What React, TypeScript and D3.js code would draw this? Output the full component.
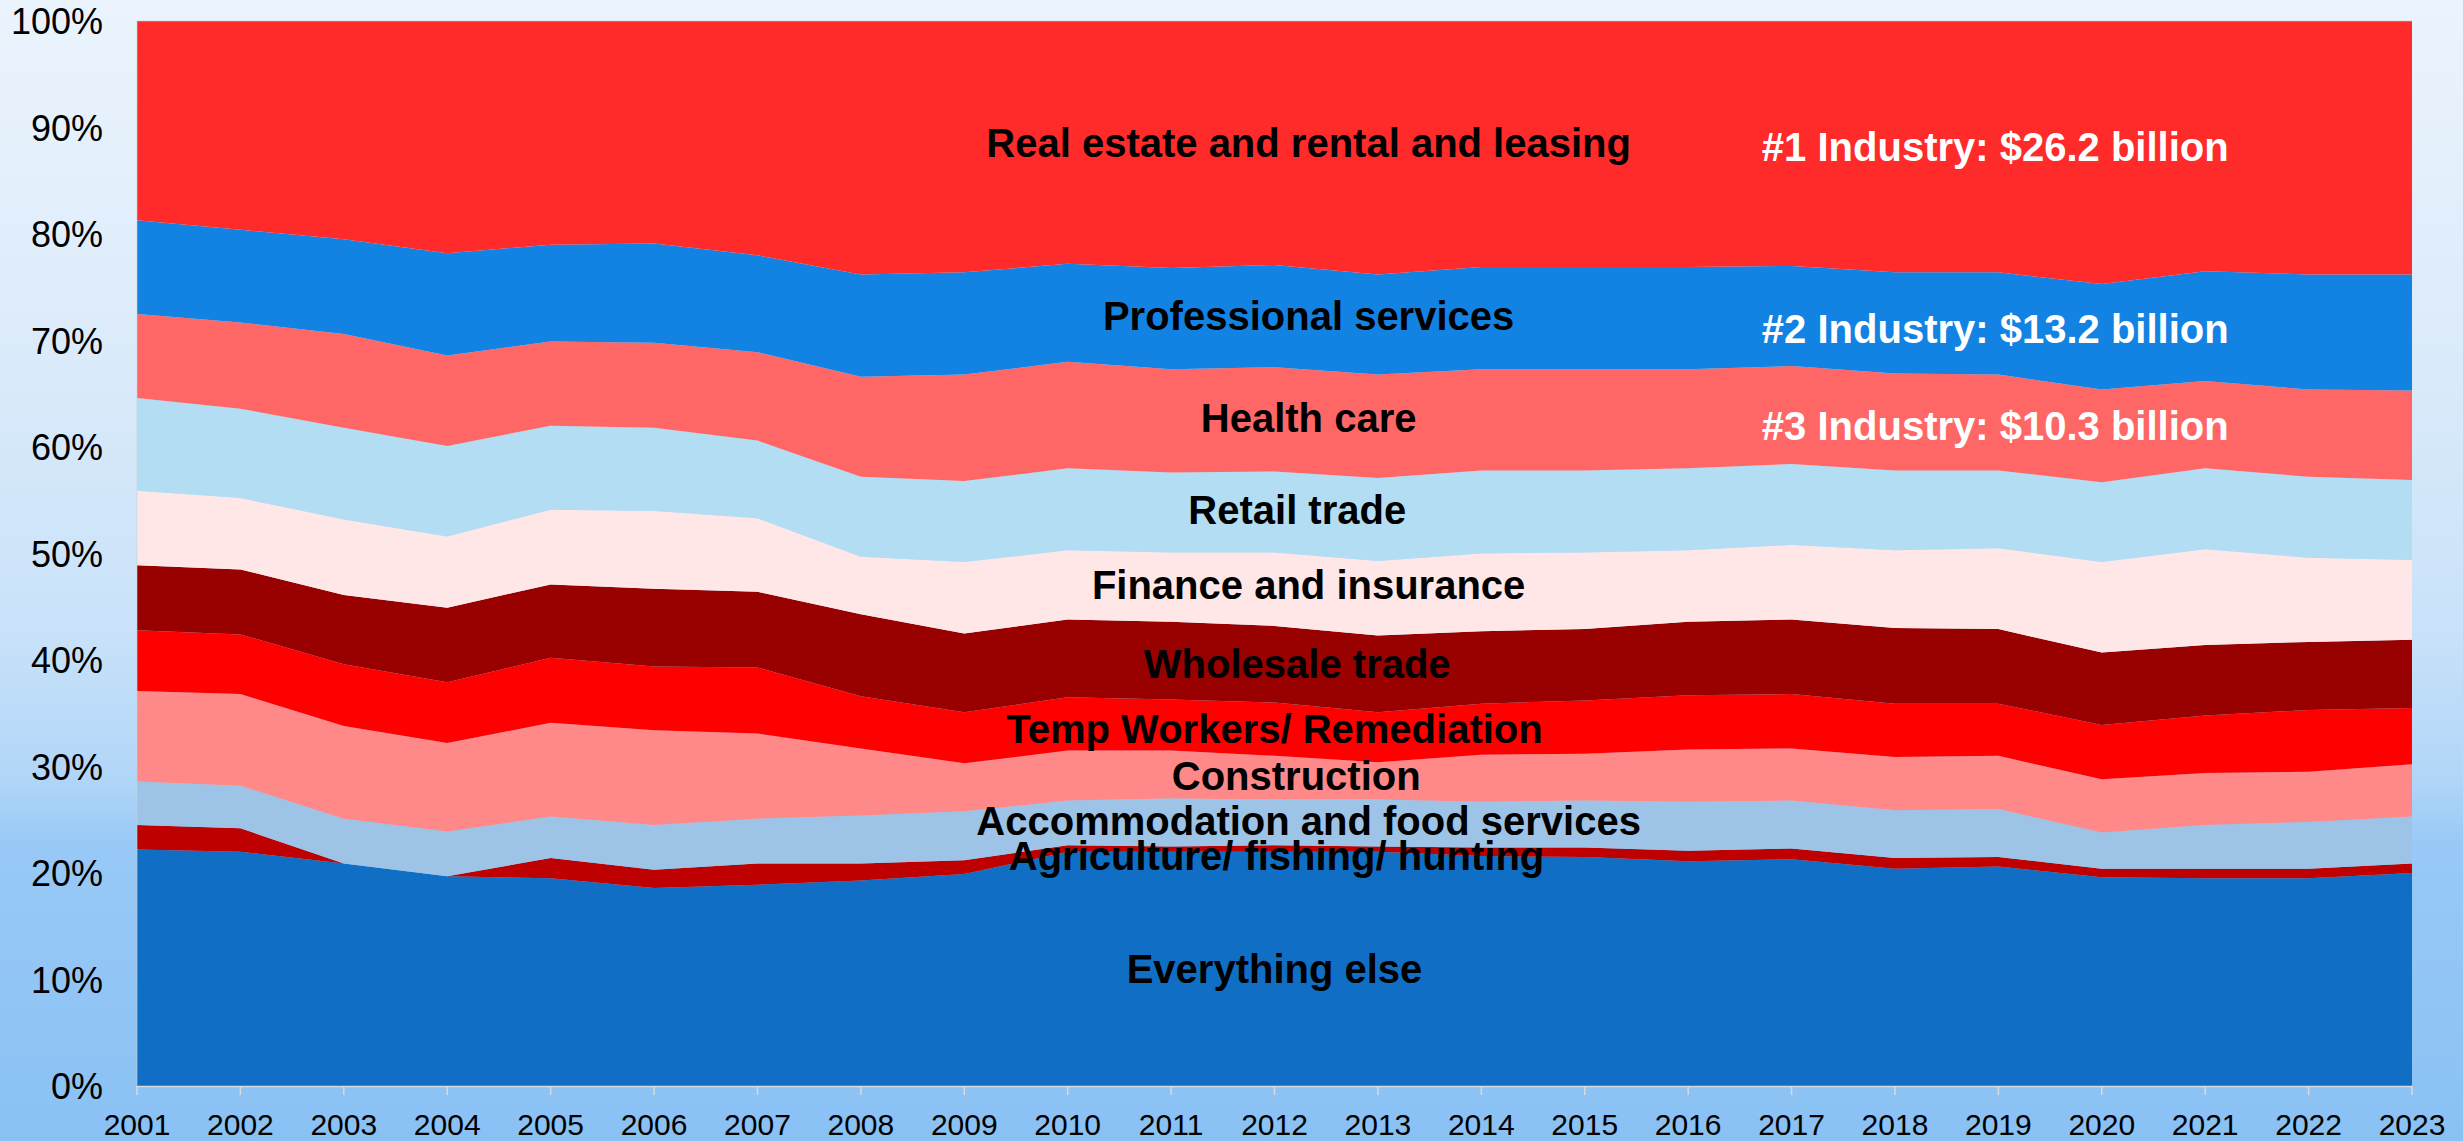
import React from "react";
import * as d3 from "d3";

const years = [2001, 2002, 2003, 2004, 2005, 2006, 2007, 2008, 2009, 2010, 2011, 2012, 2013, 2014, 2015, 2016, 2017, 2018, 2019, 2020, 2021, 2022, 2023];

// shares of total (percent), bottom to top
const everythingElse = [22.2, 22.0, 20.9, 19.7, 19.5, 18.6, 18.9, 19.3, 19.9, 22.0, 22.0, 22.0, 22.0, 21.6, 21.5, 21.1, 21.3, 20.4, 20.6, 19.6, 19.5, 19.5, 20.0];
const agriculture = [2.3, 2.2, 0.0, 0.0, 1.9, 1.7, 2.0, 1.6, 1.3, 0.6, 0.5, 0.6, 0.5, 0.8, 0.9, 1.0, 1.0, 1.0, 0.9, 0.8, 0.9, 0.9, 0.9];
const accommodation = [4.1, 4.0, 4.2, 4.2, 3.9, 4.2, 4.2, 4.5, 4.6, 4.2, 4.5, 4.3, 4.4, 4.3, 4.4, 4.6, 4.5, 4.5, 4.5, 3.4, 4.1, 4.4, 4.4];
const construction = [8.5, 8.6, 8.7, 8.3, 8.8, 8.9, 8.0, 6.3, 4.5, 4.7, 4.5, 4.1, 3.5, 4.4, 4.4, 4.9, 4.9, 5.0, 5.0, 5.0, 4.9, 4.7, 4.9];
const tempWorkers = [5.7, 5.6, 5.8, 5.7, 6.1, 6.0, 6.2, 4.9, 4.8, 5.0, 4.8, 5.0, 4.7, 4.8, 5.0, 5.1, 5.1, 5.0, 4.9, 5.1, 5.4, 5.8, 5.3];
const wholesale = [6.1, 6.1, 6.5, 7.0, 6.9, 7.3, 7.1, 7.7, 7.4, 7.3, 7.3, 7.2, 7.2, 6.8, 6.7, 6.9, 7.0, 7.1, 7.0, 6.8, 6.6, 6.4, 6.4];
const finance = [7.0, 6.7, 7.1, 6.7, 7.0, 7.3, 6.9, 5.4, 6.7, 6.5, 6.5, 6.9, 7.0, 7.3, 7.2, 6.7, 7.0, 7.3, 7.6, 8.5, 9.0, 7.9, 7.5];
const retail = [8.7, 8.4, 8.6, 8.5, 7.9, 7.8, 7.3, 7.5, 7.6, 7.7, 7.5, 7.6, 7.8, 7.8, 7.7, 7.7, 7.6, 7.5, 7.3, 7.5, 7.6, 7.6, 7.5];
const healthCare = [7.9, 8.1, 8.8, 8.5, 7.9, 8.0, 8.3, 9.4, 10.0, 10.0, 9.7, 9.8, 9.7, 9.5, 9.5, 9.3, 9.2, 9.1, 9.0, 8.7, 8.2, 8.2, 8.4];
const professional = [8.8, 8.7, 8.9, 9.6, 9.1, 9.3, 9.1, 9.6, 9.6, 9.2, 9.5, 9.6, 9.4, 9.6, 9.6, 9.6, 9.4, 9.5, 9.6, 9.9, 10.3, 10.8, 10.9];
const realEstate = [18.7, 19.6, 20.5, 21.8, 21.0, 20.9, 22.0, 23.8, 23.6, 22.8, 23.2, 22.9, 23.8, 23.1, 23.1, 23.1, 23.0, 23.6, 23.6, 24.7, 23.5, 23.8, 23.8];

const seriesKeys = ["else", "agri", "accom", "constr", "temp", "wholesale", "finance", "retail", "health", "prof", "realestate"];
const seriesValues = [everythingElse, agriculture, accommodation, construction, tempWorkers, wholesale, finance, retail, healthCare, professional, realEstate];
const seriesLabels = [
  "Everything else",
  "Agriculture/ fishing/ hunting",
  "Accommodation and food services",
  "Construction",
  "Temp Workers/ Remediation",
  "Wholesale trade",
  "Finance and insurance",
  "Retail trade",
  "Health care",
  "Professional services",
  "Real estate and rental and leasing",
];
const seriesColors = ["#106FC5", "#BE0000", "#9DC3E6", "#FF8989", "#FF0000", "#990000", "#FFE7E7", "#B2DDF2", "#FF6767", "#1383E3", "#FF2A2A"];
// label anchor in data units [year, percent]
const labelAnchors: [number, number][] = [
  [2012.0, 9.7],
  [2012.02, 20.3],
  [2012.33, 23.6],
  [2012.21, 27.8],
  [2012.0, 32.2],
  [2012.22, 38.3],
  [2012.33, 45.7],
  [2012.22, 52.8],
  [2012.33, 61.4],
  [2012.33, 71.0],
  [2012.33, 87.2],
];

const rankNotes = ["#1 Industry: $26.2 billion", "#2 Industry: $13.2 billion", "#3 Industry: $10.3 billion"];
const rankAnchors: [number, number][] = [
  [2018.97, 86.85],
  [2018.97, 69.8],
  [2018.97, 60.7],
];

const yTicks = [0, 0.1, 0.2, 0.3, 0.4, 0.5, 0.6, 0.7, 0.8, 0.9, 1.0];

const W = 2463;
const H = 1141;
const left = 137;
const right = 2412;
const top = 21;
const bottom = 1086;

export default function App() {
  const rows = years.map((yr, i) => {
    const r: any = { year: yr };
    seriesKeys.forEach((k, j) => (r[k] = seriesValues[j][i]));
    return r;
  });
  const stack = d3.stack<any>().keys(seriesKeys).offset(d3.stackOffsetExpand);
  const layers = stack(rows);

  const x = d3.scaleLinear().domain([years[0], years[years.length - 1]]).range([left, right]);
  const y = d3.scaleLinear().domain([0, 1]).range([bottom, top]);
  const area = d3
    .area<any>()
    .x((d) => x(d.data.year))
    .y0((d) => y(d[0]))
    .y1((d) => y(d[1]))
    .curve(d3.curveLinear);

  const fmt = d3.format(".0%");
  const font = "'Liberation Sans', Arial, sans-serif";

  return (
    <svg
      width={W}
      height={H}
      viewBox={`0 0 ${W} ${H}`}
      style={{ position: "absolute", left: 0, top: 0, display: "block" }}
    >
      <defs>
        <linearGradient id="bg" x1="0" y1="0" x2="0" y2="1">
          <stop offset="0" stopColor="#EBF4FD" />
          <stop offset="0.3" stopColor="#DCEBFA" />
          <stop offset="0.55" stopColor="#C9E2F9" />
          <stop offset="0.68" stopColor="#B2D6F8" />
          <stop offset="0.74" stopColor="#98C9F6" />
          <stop offset="1" stopColor="#8AC1F4" />
        </linearGradient>
      </defs>
      <rect x={0} y={0} width={W} height={H} fill="url(#bg)" />

      <g>
        {layers.map((layer, i) => (
          <path key={seriesKeys[i]} d={area(layer as any) || ""} fill={seriesColors[i]} stroke="none" />
        ))}
      </g>

      {/* axes */}
      <line x1={left} x2={right} y1={bottom + 0.5} y2={bottom + 0.5} stroke="#D9D9D9" strokeWidth={1.5} />
      <line x1={left} x2={left} y1={top} y2={bottom} stroke="#D0D0D0" strokeWidth={1} opacity={0.6} />
      <line x1={left} x2={right} y1={top} y2={top} stroke="#C8C8C8" strokeWidth={1} opacity={0.6} />
      {years.map((yr) => (
        <line key={"t" + yr} x1={x(yr)} x2={x(yr)} y1={bottom} y2={bottom + 9} stroke="#D9D9D9" strokeWidth={1.5} />
      ))}
      {years.map((yr) => (
        <text key={"xl" + yr} x={x(yr)} y={1135} textAnchor="middle" fontFamily={font} fontSize={30} fill="#000">
          {yr}
        </text>
      ))}
      {yTicks.map((t) => (
        <text key={"yl" + t} x={103} y={y(t) + 13} textAnchor="end" fontFamily={font} fontSize={36} fill="#000">
          {fmt(t)}
        </text>
      ))}

      {/* series labels */}
      {seriesLabels.map((lab, i) => (
        <text
          key={"lab" + i}
          x={x(labelAnchors[i][0])}
          y={y(labelAnchors[i][1] / 100)}
          textAnchor="middle"
          fontFamily={font}
          fontWeight="bold"
          fontSize={40}
          fill="#000"
        >
          {lab}
        </text>
      ))}
      {rankNotes.map((lab, i) => (
        <text
          key={"rank" + i}
          x={x(rankAnchors[i][0])}
          y={y(rankAnchors[i][1] / 100)}
          textAnchor="middle"
          fontFamily={font}
          fontWeight="bold"
          fontSize={40}
          fill="#FFFFFF"
        >
          {lab}
        </text>
      ))}
    </svg>
  );
}
